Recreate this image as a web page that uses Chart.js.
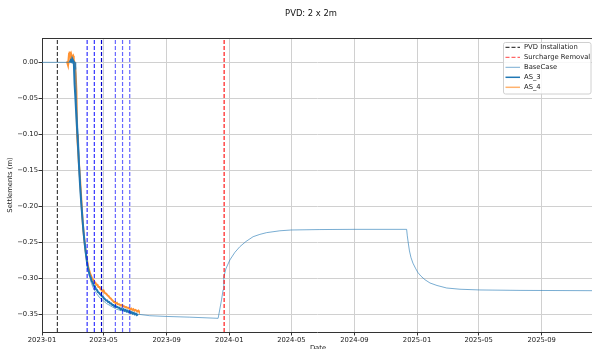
<!DOCTYPE html>
<html><head><meta charset="utf-8">
<script src="https://cdn.jsdelivr.net/npm/chart.js@4.4.1/dist/chart.umd.min.js"></script>
<style>html,body{margin:0;padding:0;background:#fff}#wrap{width:592px;height:349px;position:relative}</style>
</head><body><div id="wrap"><canvas id="c" width="592" height="349"></canvas></div>
<script>
// ---- data (x values are days since 2023-01-01) ----
const titleText = 'PVD: 2 x 2m';
const xTitle = 'Date';
const yTitle = 'Settlements (m)';
const xTickDays = [0, 120, 243, 365, 486, 609, 731, 851, 974];
const xTickLabels = ['2023-01','2023-05','2023-09','2024-01','2024-05','2024-09','2025-01','2025-05','2025-09'];
const yTicks = [0, -0.05, -0.10, -0.15, -0.20, -0.25, -0.30, -0.35];
const xMin = 0, xMax = 1072;
const yMin = -0.3746, yMax = 0.0338;

const pvdDays = [30];
const blueLineDays = [88, 102, 116, 143, 157, 171];
const surchargeDays = [355];

const baseDays = [0, 65, 65.7, 67.7, 69.6, 71.6, 73.5, 76.8, 80.0, 83.3, 87.8, 92.1, 96.4, 100.8, 106.1, 112.5, 125.6, 145.1, 176.9, 210.1, 242.6, 288.1, 343.3, 349.9, 353.0, 354.4, 358.3, 366.1, 375.9, 385.6, 397.3, 411.5, 424.6, 437.7, 463.7, 485.7, 541.6, 608.5, 710.7, 712.0, 713.9, 716.2, 719.1, 723.0, 727.9, 732.7, 738.6, 746.5, 756.2, 769.9, 788.8, 814.7, 853.7, 931.7, 1072];
const baseVals = [0, 0, -0.01, -0.06, -0.09, -0.115, -0.15, -0.196, -0.23, -0.251, -0.279, -0.295, -0.307, -0.315, -0.321, -0.327, -0.335, -0.343, -0.349, -0.352, -0.353, -0.354, -0.3556, -0.330, -0.316, -0.2977, -0.287, -0.2746, -0.264, -0.2561, -0.249, -0.2422, -0.2390, -0.2366, -0.2340, -0.2329, -0.2323, -0.2320, -0.2320, -0.241, -0.251, -0.262, -0.271, -0.279, -0.286, -0.292, -0.297, -0.302, -0.3065, -0.3100, -0.3135, -0.3152, -0.3162, -0.3168, -0.3172];

const as3Days = [54, 56, 58, 59, 61, 62, 63.5, 65, 67, 69, 71, 73, 75, 77, 79, 81, 83, 85, 87, 89, 91, 93, 95, 97, 99, 101, 103, 105, 107, 109, 111, 113, 115, 117, 119, 121, 123, 125, 127, 129, 131, 133, 135, 137, 139, 141, 143, 145, 147, 149, 151, 153, 155, 157, 159, 161, 163, 165, 167, 169, 171, 173, 175, 177, 179, 181, 183, 185, 187];
const as3Vals = [0.000, 0.003, 0.001, 0.005, 0.002, 0.000, -0.030, -0.048, -0.075, -0.100, -0.128, -0.156, -0.180, -0.200, -0.219, -0.236, -0.250, -0.263, -0.274, -0.284, -0.290, -0.296, -0.299, -0.304, -0.306, -0.310, -0.311, -0.315, -0.316, -0.319, -0.320, -0.322, -0.323, -0.325, -0.326, -0.328, -0.329, -0.331, -0.331, -0.333, -0.333, -0.335, -0.335, -0.337, -0.337, -0.339, -0.338, -0.340, -0.340, -0.341, -0.341, -0.343, -0.342, -0.344, -0.343, -0.345, -0.344, -0.346, -0.345, -0.347, -0.346, -0.348, -0.347, -0.349, -0.348, -0.350, -0.349, -0.351, -0.350];

const as4Days = [47.6, 49, 50.7, 52.7, 54, 55, 56, 57, 58.5, 60.5, 61.8, 63.8, 65.5, 67.1, 68.3, 70, 72, 74, 75.5, 78, 80, 82, 84, 86, 88, 90, 92, 94, 96, 98, 100, 102, 104, 106, 108, 110, 112, 114, 116, 118, 120, 122, 124, 126, 128, 130, 132, 134, 136, 138, 140, 142, 144, 146, 148, 150, 152, 154, 156, 158, 160, 162, 164, 166, 168, 170, 172, 174, 176, 178, 180, 182, 184, 186, 188, 189];
const as4Vals = [-0.001, 0.000, -0.004, 0.012, 0.015, 0.010, 0.008, 0.011, 0.007, 0.009, 0.003, -0.001, -0.015, -0.040, -0.100, -0.118, -0.140, -0.160, -0.177, -0.207, -0.228, -0.243, -0.256, -0.267, -0.276, -0.284, -0.289, -0.294, -0.297, -0.301, -0.302, -0.305, -0.306, -0.309, -0.309, -0.312, -0.312, -0.315, -0.316, -0.318, -0.317, -0.320, -0.321, -0.322, -0.324, -0.325, -0.327, -0.328, -0.330, -0.331, -0.333, -0.333, -0.335, -0.334, -0.336, -0.336, -0.337, -0.338, -0.337, -0.339, -0.339, -0.340, -0.340, -0.341, -0.341, -0.342, -0.343, -0.342, -0.344, -0.343, -0.345, -0.344, -0.345, -0.346, -0.345, -0.346];

// ---- styles ----
const FONT = 'DejaVu Sans';
const cBlack = 'rgba(0,0,0,0.75)';
const cRed = 'rgba(255,0,0,0.9)';
const cBase = 'rgba(31,119,180,0.6)';
const cAS3 = '#1f77b4';
const cAS4 = 'rgba(255,127,14,0.85)';

const pts = (xs, ys) => xs.map((x, i) => ({x: x, y: ys[i]}));
const vline = (d, color, w) => ({
  data: [{x: d, y: yMin}, {x: d, y: yMax}], borderColor: color, borderWidth: w || 1.2,
  borderDash: [4, 2], pointRadius: 0, fill: false, tension: 0
});

const datasets = [];
pvdDays.forEach(d => datasets.push(vline(d, cBlack)));
blueLineDays.forEach((d, i) => datasets.push(vline(d, i === 2 ? 'rgba(0,0,200,1)' : (i < 2 ? 'rgba(0,0,255,0.8)' : 'rgba(0,0,255,0.6)'))));
surchargeDays.forEach(d => datasets.push(vline(d, cRed)));
datasets.push({data: pts(baseDays, baseVals), borderColor: cBase, borderWidth: 1, pointRadius: 0, tension: 0});
datasets.push({data: pts(as3Days, as3Vals), borderColor: cAS3, borderWidth: 2, pointRadius: 0, tension: 0});
datasets.push({data: pts(as4Days, as4Vals), borderColor: cAS4, borderWidth: 2, pointRadius: 0, tension: 0});

const legendItems = [
  {label: 'PVD Installation', color: cBlack, dash: [4, 2], w: 1.2},
  {label: 'Surcharge Removal', color: 'rgba(255,0,0,0.6)', dash: [4, 2], w: 1.2},
  {label: 'BaseCase', color: cBase, dash: [], w: 1},
  {label: 'AS_3', color: cAS3, dash: [], w: 1.5},
  {label: 'AS_4', color: 'rgba(255,127,14,0.6)', dash: [], w: 1.5}
];

const extras = {
  id: 'extras',
  afterDraw(chart) {
    const ctx = chart.ctx, a = chart.chartArea;
    ctx.save();
    ctx.strokeStyle = '#333'; ctx.lineWidth = 1;
    ctx.beginPath(); ctx.moveTo(a.left, a.top + 0.5); ctx.lineTo(a.right, a.top + 0.5); ctx.stroke();
    ctx.fillStyle = '#111';
    ctx.font = '8.4px "' + FONT + '"';
    ctx.textAlign = 'center'; ctx.textBaseline = 'middle';
    ctx.fillText(titleText, 311, 14);
    ctx.font = '6.8px "' + FONT + '"';
    ctx.textBaseline = 'top';
    ctx.fillText(xTitle, 318, 344.5);
    const bx = 503.5, by = 42.5, bw = 87.5, bh = 51.5;
    ctx.fillStyle = 'rgba(255,255,255,0.85)';
    ctx.strokeStyle = '#d0d0d0'; ctx.lineWidth = 1;
    ctx.beginPath();
    if (ctx.roundRect) ctx.roundRect(bx, by, bw, bh, 2); else ctx.rect(bx, by, bw, bh);
    ctx.fill(); ctx.stroke();
    ctx.font = '6.8px "' + FONT + '"';
    ctx.textAlign = 'left'; ctx.textBaseline = 'middle';
    legendItems.forEach((it, i) => {
      const y = 47.3 + i * 10;
      ctx.strokeStyle = it.color; ctx.lineWidth = it.w; ctx.setLineDash(it.dash);
      ctx.beginPath(); ctx.moveTo(505.5, y); ctx.lineTo(520, y); ctx.stroke();
      ctx.setLineDash([]);
      ctx.fillStyle = '#222';
      ctx.fillText(it.label, 524, y);
    });
    ctx.restore();
  }
};

new Chart(document.getElementById('c'), {
  type: 'line',
  data: {datasets: datasets},
  plugins: [extras],
  options: {
    responsive: false, animation: false, devicePixelRatio: 1,
    layout: {padding: {top: 38, left: 0, right: 0, bottom: 0}},
    plugins: {legend: {display: false}, title: {display: false}, tooltip: {enabled: false}},
    scales: {
      x: {
        type: 'linear', min: xMin, max: xMax,
        afterBuildTicks: s => { s.ticks = xTickDays.map(v => ({value: v})); },
        afterFit: s => { s.height = 17; },
        ticks: {
          autoSkip: false, maxRotation: 0, padding: 1, color: '#222',
          font: {family: FONT, size: 6.8},
          callback: v => { const i = xTickDays.indexOf(v); return i >= 0 ? xTickLabels[i] : ''; }
        },
        grid: {color: '#d0d0d0', lineWidth: 1, tickColor: '#333', tickLength: 3.5},
        border: {display: true, color: '#333', width: 1}
      },
      y: {
        type: 'linear', min: yMin, max: yMax,
        afterBuildTicks: s => { s.ticks = yTicks.map(v => ({value: v})); },
        afterFit: s => { s.width = 42; },
        ticks: {
          autoSkip: false, padding: 0.5, color: '#222',
          font: {family: FONT, size: 6.8},
          callback: v => (v < -1e-9 ? '\u2212' : '') + Math.abs(v).toFixed(2)
        },
        title: {display: true, text: yTitle, color: '#222', font: {family: FONT, size: 6.8}, padding: {top: 6.5, bottom: 0}},
        grid: {color: '#d0d0d0', lineWidth: 1, tickColor: '#333', tickLength: 3.5},
        border: {display: true, color: '#333', width: 1}
      }
    }
  }
});
</script>
</body></html>
